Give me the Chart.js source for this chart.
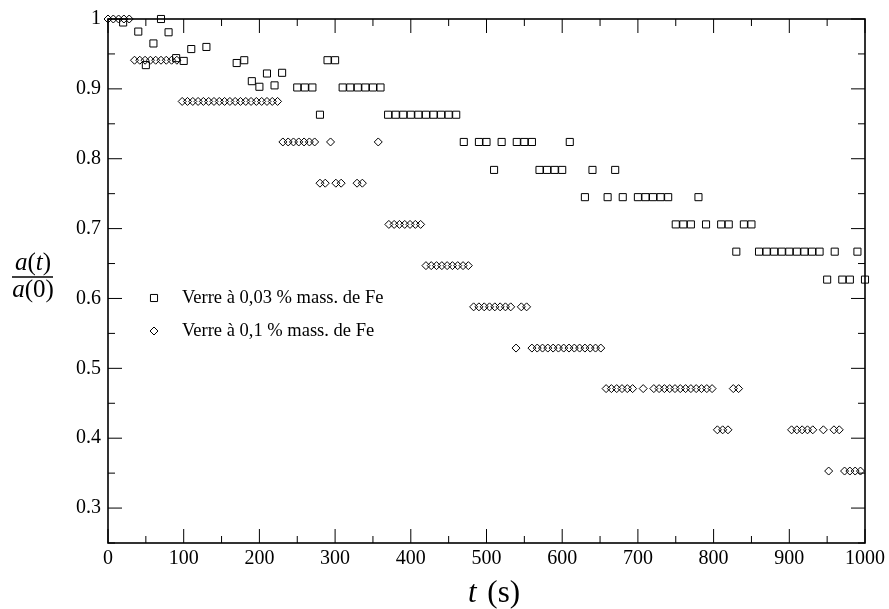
<!DOCTYPE html>
<html>
<head>
<meta charset="utf-8">
<script src="https://cdn.jsdelivr.net/npm/chart.js@4.4.0/dist/chart.umd.min.js"></script>
<style>
  html, body { margin: 0; padding: 0; background: #fff; }
</style>
</head>
<body>
<canvas id="chart" width="889" height="609"></canvas>
<script>
// Tick values shown on the axes
const xTicks = [0, 100, 200, 300, 400, 500, 600, 700, 800, 900, 1000];
const yTicks = [0.3, 0.4, 0.5, 0.6, 0.7, 0.8, 0.9, 1];

const seriesLabels = ['Verre à 0,03 % mass. de Fe', 'Verre à 0,1 % mass. de Fe'];

// Glass with 0.03 % Fe (squares)
const aTimes = [20, 40, 50, 60, 70, 80, 90, 100, 110, 130, 170, 180, 190, 200, 210, 220, 230,
  250, 260, 270, 280, 290, 300, 310, 320, 330, 340, 350, 360,
  370, 380, 390, 400, 410, 420, 430, 440, 450, 460,
  470, 490, 500, 510, 520, 540, 550, 560, 570, 580, 590, 600, 610,
  630, 640, 660, 670, 680, 700, 710, 720, 730, 740,
  750, 760, 770, 780, 790, 810, 820, 830, 840, 850,
  860, 870, 880, 890, 900, 910, 920, 930, 940, 950, 960, 970, 980, 990, 1000];
const aValues = [0.995, 0.982, 0.934, 0.965, 1.0, 0.981, 0.944, 0.940, 0.957, 0.960, 0.937, 0.941, 0.911, 0.903, 0.922, 0.905, 0.923,
  0.902, 0.902, 0.902, 0.863, 0.941, 0.941, 0.902, 0.902, 0.902, 0.902, 0.902, 0.902,
  0.863, 0.863, 0.863, 0.863, 0.863, 0.863, 0.863, 0.863, 0.863, 0.863,
  0.824, 0.824, 0.824, 0.784, 0.824, 0.824, 0.824, 0.824, 0.784, 0.784, 0.784, 0.784, 0.824,
  0.745, 0.784, 0.745, 0.784, 0.745, 0.745, 0.745, 0.745, 0.745, 0.745,
  0.706, 0.706, 0.706, 0.745, 0.706, 0.706, 0.706, 0.667, 0.706, 0.706,
  0.667, 0.667, 0.667, 0.667, 0.667, 0.667, 0.667, 0.667, 0.667, 0.627, 0.667, 0.627, 0.627, 0.667, 0.627];

// Glass with 0.1 % Fe (diamonds)
const bTimes = [0, 7, 14, 21, 28,
  35, 42, 49, 56, 63, 70, 77, 84, 91,
  98, 105, 112, 119, 126, 133, 140, 147, 154, 161, 168, 175, 182, 189, 196, 203, 210, 217, 224,
  231, 238, 245, 252, 259, 266, 273, 280, 287, 294, 301, 308, 329, 336, 357,
  371, 378, 385, 392, 399, 406, 413,
  420, 427, 434, 441, 448, 455, 462, 469, 476,
  483, 490, 497, 504, 511, 518, 525, 532, 539, 546, 553,
  560, 567, 574, 581, 588, 595, 602, 609, 616, 623, 630, 637, 644, 651,
  658, 665, 672, 679, 686, 693, 707,
  721, 728, 735, 742, 749, 756, 763, 770, 777, 784, 791, 798,
  805, 812, 819, 826, 833,
  903, 910, 917, 924, 931, 945, 952, 959, 966, 973, 980, 987, 994];
const bValues = [1, 1, 1, 1, 1,
  0.941, 0.941, 0.941, 0.941, 0.941, 0.941, 0.941, 0.941, 0.941,
  0.882, 0.882, 0.882, 0.882, 0.882, 0.882, 0.882, 0.882, 0.882, 0.882, 0.882, 0.882, 0.882, 0.882, 0.882, 0.882, 0.882, 0.882, 0.882,
  0.824, 0.824, 0.824, 0.824, 0.824, 0.824, 0.824, 0.765, 0.765, 0.824, 0.765, 0.765, 0.765, 0.765, 0.824,
  0.706, 0.706, 0.706, 0.706, 0.706, 0.706, 0.706,
  0.647, 0.647, 0.647, 0.647, 0.647, 0.647, 0.647, 0.647, 0.647,
  0.588, 0.588, 0.588, 0.588, 0.588, 0.588, 0.588, 0.588, 0.529, 0.588, 0.588,
  0.529, 0.529, 0.529, 0.529, 0.529, 0.529, 0.529, 0.529, 0.529, 0.529, 0.529, 0.529, 0.529, 0.529,
  0.471, 0.471, 0.471, 0.471, 0.471, 0.471, 0.471,
  0.471, 0.471, 0.471, 0.471, 0.471, 0.471, 0.471, 0.471, 0.471, 0.471, 0.471, 0.471,
  0.412, 0.412, 0.412, 0.471, 0.471,
  0.412, 0.412, 0.412, 0.412, 0.412, 0.412, 0.353, 0.412, 0.412, 0.353, 0.353, 0.353, 0.353];

const SERIF = '"Liberation Serif", "DejaVu Serif", serif';

// draw a row of text pieces, some italic, centred on x
function drawPieces(ctx, pieces, cx, y, size) {
  let total = 0;
  pieces.forEach(p => {
    ctx.font = (p.italic ? 'italic ' : '') + size + 'px ' + SERIF;
    p.w = ctx.measureText(p.text).width + (p.gap || 0);
    total += p.w;
  });
  let x = cx - total / 2;
  ctx.textAlign = 'left';
  pieces.forEach(p => {
    ctx.font = (p.italic ? 'italic ' : '') + size + 'px ' + SERIF;
    ctx.fillText(p.text, x, y);
    x += p.w;
  });
}

// frame with inward ticks on all four sides, legend and axis titles
const framePlugin = {
  id: 'frame',
  afterDatasetsDraw(chart) {
    const {ctx, chartArea: a, scales} = chart;
    const xs = scales.x, ys = scales.y;
    ctx.save();
    ctx.strokeStyle = '#000';
    ctx.lineWidth = 1;
    ctx.beginPath();
    xTicks.forEach(v => {
      const px = xs.getPixelForValue(v);
      ctx.moveTo(px, a.bottom); ctx.lineTo(px, a.bottom - 14);
      ctx.moveTo(px, a.top); ctx.lineTo(px, a.top + 14);
      if (v + 50 < xs.max) {
        const pm = xs.getPixelForValue(v + 50);
        ctx.moveTo(pm, a.bottom); ctx.lineTo(pm, a.bottom - 7);
        ctx.moveTo(pm, a.top); ctx.lineTo(pm, a.top + 7);
      }
    });
    yTicks.forEach(v => {
      const py = ys.getPixelForValue(v);
      ctx.moveTo(a.left, py); ctx.lineTo(a.left + 14, py);
      ctx.moveTo(a.right, py); ctx.lineTo(a.right - 14, py);
      const pm = ys.getPixelForValue(v - 0.05);
      ctx.moveTo(a.left, pm); ctx.lineTo(a.left + 7, pm);
      ctx.moveTo(a.right, pm); ctx.lineTo(a.right - 7, pm);
    });
    ctx.stroke();
    ctx.lineWidth = 1.6;
    ctx.strokeRect(a.left, a.top, a.right - a.left, a.bottom - a.top);

    // legend inside the plot
    ctx.textBaseline = 'middle';
    const styles = ['rect', 'rectRot'];
    const radii = [5, 4];
    [298, 331].forEach((ly, i) => {
      ctx.lineWidth = 1;
      ctx.fillStyle = 'rgba(0,0,0,0)';
      Chart.helpers.drawPoint(ctx, {pointStyle: styles[i], radius: radii[i], borderWidth: 1}, 154, ly);
      ctx.fillStyle = '#000';
      ctx.font = '18.5px ' + SERIF;
      ctx.textAlign = 'left';
      ctx.fillText(seriesLabels[i], 182, ly);
    });

    // axis titles
    ctx.fillStyle = '#000';
    ctx.textBaseline = 'alphabetic';
    drawPieces(ctx, [{text: 't', italic: true, gap: 3}, {text: ' (s)'}], 494, 602, 31);
    drawPieces(ctx, [{text: 'a', italic: true}, {text: '('}, {text: 't', italic: true}, {text: ')'}], 33, 270, 25);
    drawPieces(ctx, [{text: 'a', italic: true}, {text: '(0)'}], 33, 297, 25);
    ctx.lineWidth = 1.6;
    ctx.beginPath();
    ctx.moveTo(12, 277); ctx.lineTo(53, 277);
    ctx.stroke();
    ctx.restore();
  }
};

new Chart(document.getElementById('chart'), {
  type: 'scatter',
  data: {
    datasets: [{
      label: seriesLabels[0],
      data: aTimes.map((t, i) => ({x: t, y: aValues[i]})),
      pointStyle: 'rect',
      pointRadius: 5,
      borderColor: '#000',
      backgroundColor: 'rgba(0,0,0,0)',
      borderWidth: 1,
      clip: false
    }, {
      label: seriesLabels[1],
      data: bTimes.map((t, i) => ({x: t, y: bValues[i]})),
      pointStyle: 'rectRot',
      pointRadius: 4,
      borderColor: '#000',
      backgroundColor: 'rgba(0,0,0,0)',
      borderWidth: 1,
      clip: false
    }]
  },
  options: {
    responsive: false,
    animation: false,
    devicePixelRatio: 1,
    layout: {padding: {top: 13, right: 24, left: 0, bottom: 0}},
    plugins: {legend: {display: false}, tooltip: {enabled: false}},
    scales: {
      x: {
        type: 'linear',
        min: 0, max: 1000,
        afterBuildTicks: s => { s.ticks = xTicks.map(v => ({value: v})); },
        afterFit: s => { s.height = 66; },
        grid: {display: false, drawTicks: false},
        border: {display: false},
        ticks: {
          color: '#000', padding: 4, maxRotation: 0, font: {family: SERIF, size: 20},
          callback: v => String(v)
        }
      },
      y: {
        type: 'linear',
        min: 0.25, max: 1,
        afterBuildTicks: s => { s.ticks = yTicks.map(v => ({value: v})); },
        afterFit: s => { s.width = 108; },
        grid: {display: false, drawTicks: false},
        border: {display: false},
        ticks: {
          color: '#000', padding: 7, font: {family: SERIF, size: 20},
          callback: v => v === 1 ? '1' : v.toFixed(1)
        }
      }
    }
  },
  plugins: [framePlugin]
});
</script>
</body>
</html>
